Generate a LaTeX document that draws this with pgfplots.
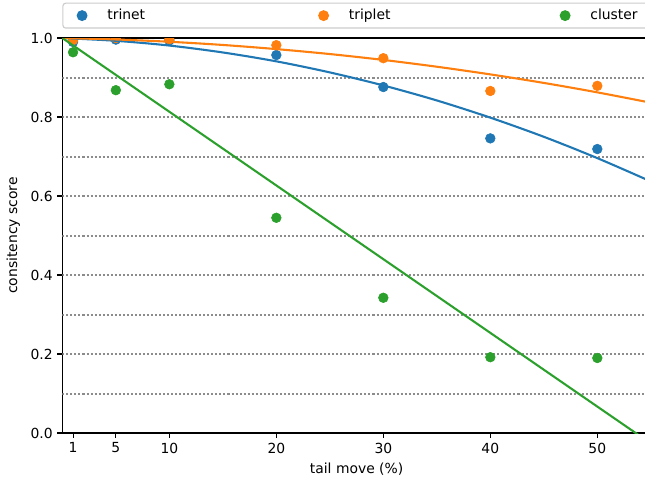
\documentclass[border=0pt]{standalone}
\usepackage{fontspec}
\setmainfont{DejaVu Sans}
\usepackage{pgfplots}
\pgfplotsset{compat=1.18}
\definecolor{tabblue}{HTML}{1F77B4}
\definecolor{taborange}{HTML}{FF7F0E}
\definecolor{tabgreen}{HTML}{2CA02C}
\definecolor{legframe}{HTML}{CCCCCC}
\definecolor{dotgray}{HTML}{8C8C8C}
\pgfplotsset{hdot/.style={forget plot, no marks, draw=dotgray, line width=1.5pt, dash pattern=on 1.45pt off 1.45pt}}
\begin{document}
\begin{tikzpicture}
\path[use as bounding box] (-44.9pt,-35.3pt) rectangle (419.5pt,311.8pt);
\clip (-44.9pt,-35.3pt) rectangle (419.5pt,311.8pt);
\begin{axis}[
  at={(0,0)}, anchor=south west,
  scale only axis, width=423.7pt, height=284.4pt,
  xmin=0, xmax=55, ymin=0, ymax=1,
  xtick={1,5,10,20,30,40,50},
  ytick={0,0.2,0.4,0.6,0.8,1.0},
  yticklabel style={/pgf/number format/.cd, fixed, fixed zerofill, precision=1},
  /pgf/number format/assume math mode=true,
  tick label style={font=\fontsize{10}{12}\selectfont},
  tick align=outside, xtick pos=left, ytick pos=left,
  major tick length=3.5pt,
  tick style={black, line width=0.8pt},
  axis line style={line width=0.8pt},
  clip marker paths=true,
  xlabel={tail move (\%)},
  ylabel={consitency score},
  every axis x label/.style={at={(axis description cs:0.5,0)}, yshift=-26pt, anchor=center, font=\fontsize{10}{12}\selectfont},
  every axis y label/.style={at={(axis description cs:0,0.5)}, xshift=-35.4pt, rotate=90, anchor=center, font=\fontsize{10}{12}\selectfont},
  legend style={at={(0,1)}, anchor=south west, yshift=6.8pt, legend columns=3,
    draw=legframe, line width=0.8pt, rounded corners=2pt, fill=white,
    inner xsep=3pt, inner ysep=2.4pt, nodes={inner sep=2pt},
    font=\fontsize{10}{12}\selectfont,
    /tikz/every even column/.append style={column sep=0pt}},
  legend image code/.code={\path[draw=none, fill=none] (-10.8pt,-0.1pt) rectangle (16.2pt,0.1pt); \draw[#1] plot coordinates {(0pt,0pt)};},
]
\addplot[hdot] coordinates {(0,0.1) (55,0.1)};
\addplot[hdot] coordinates {(0,0.2) (55,0.2)};
\addplot[hdot] coordinates {(0,0.3) (55,0.3)};
\addplot[hdot] coordinates {(0,0.4) (55,0.4)};
\addplot[hdot] coordinates {(0,0.5) (55,0.5)};
\addplot[hdot] coordinates {(0,0.6) (55,0.6)};
\addplot[hdot] coordinates {(0,0.7) (55,0.7)};
\addplot[hdot] coordinates {(0,0.8) (55,0.8)};
\addplot[hdot] coordinates {(0,0.9) (55,0.9)};
\addplot[only marks, mark=*, mark size=3.5pt, color=tabblue, mark options={draw=tabblue, fill=tabblue}]
  coordinates {(1,0.990) (5,0.996) (10,0.994) (20,0.957) (30,0.876) (40,0.746) (50,0.719)};
\addlegendentry{\makebox[142.9pt][l]{trinet}}
\addplot[only marks, mark=*, mark size=3.5pt, color=taborange, mark options={draw=taborange, fill=taborange}]
  coordinates {(1,0.995) (5,1.000) (10,0.997) (20,0.982) (30,0.949) (40,0.866) (50,0.879)};
\addlegendentry{\makebox[142.9pt][l]{triplet}}
\addplot[only marks, mark=*, mark size=3.5pt, color=tabgreen, mark options={draw=tabgreen, fill=tabgreen}]
  coordinates {(1,0.964) (5,0.868) (10,0.883) (20,0.545) (30,0.3425) (40,0.192) (50,0.190)};
\addlegendentry{\makebox[142.9pt][l]{cluster}}
\addplot[forget plot, no marks, smooth, color=tabblue, line width=1.5pt]
  coordinates {(0,1.000) (5,0.993) (10,0.981) (15,0.9635) (20,0.941) (25,0.913) (30,0.880) (35,0.842) (40,0.7985) (45,0.750) (50,0.696) (55,0.637)};
\addplot[forget plot, no marks, smooth, color=taborange, line width=1.5pt]
  coordinates {(0,1.000) (5,0.9964) (10,0.9906) (15,0.9825) (20,0.972) (25,0.9595) (30,0.9446) (35,0.9274) (40,0.908) (45,0.8864) (50,0.8625) (55,0.8363)};
\addplot[forget plot, no marks, color=tabgreen, line width=1.5pt]
  coordinates {(0,1.0) (55,-0.0263)};
\end{axis}
\end{tikzpicture}
\end{document}
